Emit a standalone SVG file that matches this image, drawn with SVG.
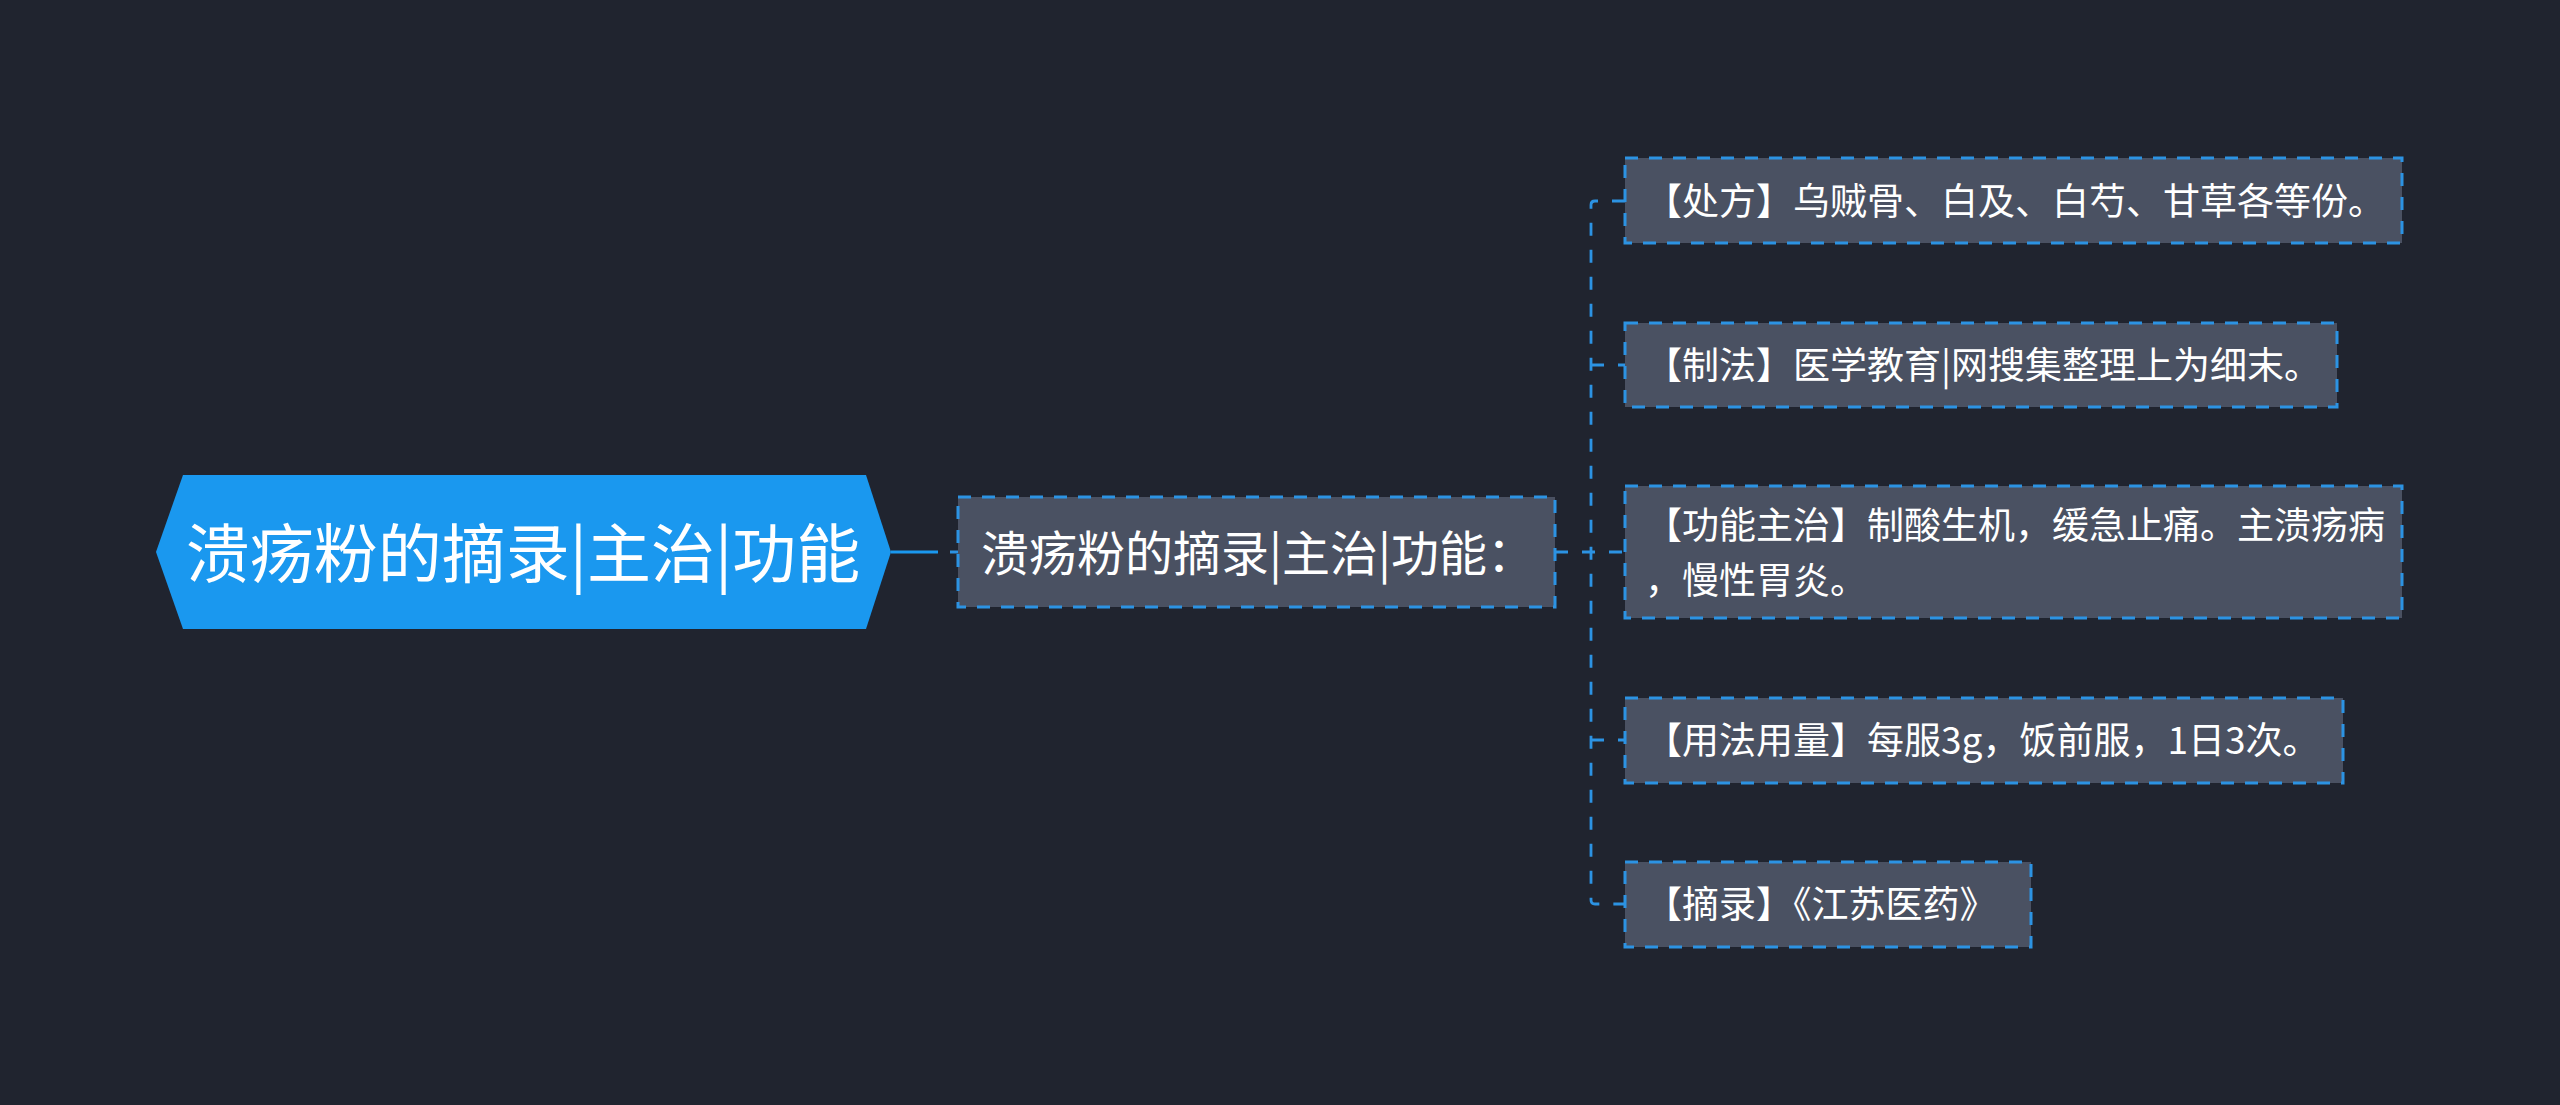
<svg xmlns="http://www.w3.org/2000/svg" width="2560" height="1105" viewBox="0 0 2560 1105">
<style>
.bg{fill:#20242F}
.root{fill:#1A98EF}
.box{fill:#4A5162;stroke:#2C93E3;stroke-width:3;stroke-dasharray:13 11}
.con{fill:none;stroke:#2C93E3;stroke-width:2.8;stroke-dasharray:13 14}
.t{font-family:"Noto Sans CJK SC","Noto Sans",sans-serif;fill:#FFFFFF}
.leaf{font-size:37px}
</style>
<rect class="bg" x="0" y="0" width="2560" height="1105"/>
<g id="connectors">
<path d="M891,552 H938" fill="none" stroke="#1A98EF" stroke-width="3"/>
<path d="M950,552 H958" fill="none" stroke="#2C93E3" stroke-width="3"/>
<path class="con" d="M1555,552 H1625"/>
<path class="con" d="M1625,201 H1595 Q1591,201 1591,205 V900 Q1591,904 1595,904 H1625"/>
<path class="con" d="M1591,365 H1625"/>
<path class="con" d="M1591,740 H1625"/>
</g>
<g id="root">
<polygon class="root" points="156,552 183,475 866,475 891,552 866,629 183,629"/>
<text class="t" x="523" y="577" font-size="64" text-anchor="middle">溃疡粉的摘录|主治|功能</text>
</g>
<g id="middle">
<rect class="box" x="958" y="497" width="597" height="110"/>
<text class="t" x="981" y="571" font-size="48">溃疡粉的摘录|主治|功能：</text>
</g>
<g id="leaf1">
<rect class="box" x="1625" y="158" width="777" height="85"/>
<text class="t leaf" x="1645" y="215">【处方】乌贼骨、白及、白芍、甘草各等份。</text>
</g>
<g id="leaf2">
<rect class="box" x="1625" y="323" width="712" height="84"/>
<text class="t leaf" x="1645" y="379">【制法】医学教育|网搜集整理上为细末。</text>
</g>
<g id="leaf3">
<rect class="box" x="1625" y="486" width="777" height="132"/>
<text class="t leaf" x="1645" y="539">【功能主治】制酸生机，缓急止痛。主溃疡病</text>
<text class="t leaf" x="1645" y="594">，慢性胃炎。</text>
</g>
<g id="leaf4">
<rect class="box" x="1625" y="698" width="718" height="85"/>
<text class="t leaf" x="1645" y="754">【用法用量】每服3g，饭前服，1日3次。</text>
</g>
<g id="leaf5">
<rect class="box" x="1625" y="862" width="406" height="85"/>
<text class="t leaf" x="1645" y="918">【摘录】《江苏医药》</text>
</g>
</svg>
